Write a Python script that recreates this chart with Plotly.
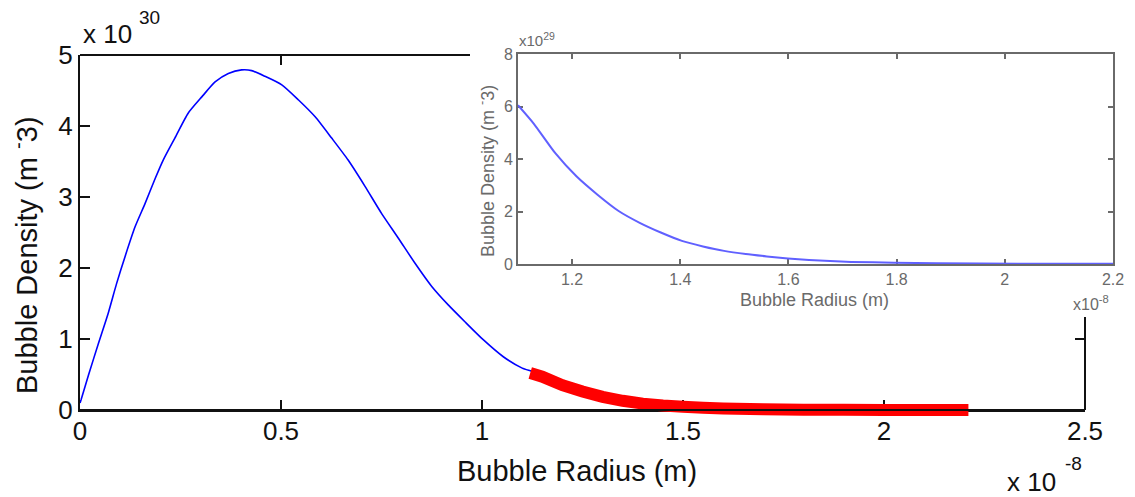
import plotly.graph_objects as go

# ---------------- data (x in 1e-8 m, main y in 1e30 m^-3, inset y in 1e29 m^-3) -------------
radius = [0.0, 0.0025, 0.021, 0.046, 0.070, 0.091, 0.112, 0.137, 0.162, 0.187, 0.207,
          0.236, 0.269, 0.303, 0.336, 0.369, 0.402, 0.427, 0.460, 0.502, 0.543, 0.585,
          0.626, 0.667, 0.709, 0.750, 0.792, 0.833, 0.875, 0.916, 0.958, 1.003, 1.053,
          1.100, 1.129, 1.169, 1.208, 1.247, 1.286, 1.325, 1.364, 1.403, 1.442, 1.481,
          1.521, 1.560, 1.599, 1.638, 1.677, 1.716, 1.795, 1.873, 2.030, 2.200, 2.350, 2.500]
density = [0.10, 0.14, 0.49, 0.94, 1.36, 1.78, 2.16, 2.58, 2.91, 3.26, 3.52,
           3.83, 4.18, 4.41, 4.62, 4.74, 4.79, 4.78, 4.70, 4.58, 4.37, 4.13,
           3.83, 3.52, 3.15, 2.77, 2.42, 2.07, 1.74, 1.48, 1.24, 0.99, 0.75,
           0.59, 0.535, 0.422, 0.334, 0.264, 0.202, 0.157, 0.120, 0.088, 0.067, 0.050,
           0.038, 0.029, 0.021, 0.015, 0.011, 0.008, 0.005, 0.003, 0.001, 0.0005, 0.0002, 0.0001]

red_radius = [1.12, 1.15, 1.20, 1.25, 1.30, 1.35, 1.40, 1.45, 1.50, 1.55, 1.60,
              1.70, 1.80, 1.90, 2.00, 2.10, 2.21]
red_density = [0.52, 0.47, 0.35, 0.26, 0.185, 0.13, 0.09, 0.064, 0.045, 0.031, 0.021,
               0.009, 0.005, 0.003, 0.0015, 0.001, 0.0005]

inset_radius = [1.10, 1.129, 1.169, 1.208, 1.247, 1.286, 1.325, 1.364, 1.403, 1.442, 1.481,
                1.521, 1.560, 1.599, 1.638, 1.677, 1.716, 1.795, 1.873, 2.030, 2.200]
inset_density = [6.05, 5.35, 4.22, 3.34, 2.64, 2.02, 1.57, 1.20, 0.88, 0.67, 0.50,
                 0.38, 0.29, 0.21, 0.15, 0.11, 0.08, 0.05, 0.03, 0.01, 0.005]

main_xticks = [0, 0.5, 1, 1.5, 2, 2.5]
main_xticklabels = ["0", "0.5", "1", "1.5", "2", "2.5"]
main_yticks = [0, 1, 2, 3, 4, 5]
main_yticklabels = ["0", "1", "2", "3", "4", "5"]
inset_xticks = [1.2, 1.4, 1.6, 1.8, 2.0, 2.2]
inset_xticklabels = ["1.2", "1.4", "1.6", "1.8", "2", "2.2"]
inset_yticks = [0, 2, 4, 6, 8]
inset_yticklabels = ["0", "2", "4", "6", "8"]

x_label = "Bubble Radius (m)"
y_label = "Bubble Density (m <sup>-</sup>3)"

# ---------------- layout geometry ----------------
W, H = 1135, 497
L, R, T, B = 80, 22, 54, 77
PW, PH = W - L - R, H - T - B
MAIN_TOP, MAIN_BOTTOM = 55, 410          # pixel rows of the main axes box
RED_BOTTOM = 417                         # the thick red band may spill below the axis


def px(x):
    return (x - L) / PW


def py(y):
    return (H - B - y) / PH


FONT = "Liberation Sans, Arial, sans-serif"
BLACK = "#111111"
GRAY = "#6a6a6a"

y_max = main_yticks[-1]
per_px = (y_max - main_yticks[0]) / (MAIN_BOTTOM - MAIN_TOP)
red_range = [main_yticks[0] - per_px * (RED_BOTTOM - MAIN_BOTTOM), y_max]

fig = go.Figure()
fig.add_trace(go.Scatter(x=radius, y=density, mode="lines",
                         line=dict(color="#0000ff", width=1.6, simplify=False, shape="spline", smoothing=0.6),
                         xaxis="x", yaxis="y", showlegend=False, hoverinfo="skip"))
fig.add_trace(go.Scatter(x=inset_radius, y=inset_density, mode="lines",
                         line=dict(color="#6060ff", width=2, simplify=False, shape="spline", smoothing=0.6),
                         xaxis="x2", yaxis="y2", showlegend=False, hoverinfo="skip"))
fig.add_trace(go.Scatter(x=red_radius, y=red_density, mode="lines",
                         line=dict(color="#ff0000", width=12, simplify=False),
                         xaxis="x", yaxis="y3", showlegend=False, hoverinfo="skip"))

main_axis = dict(showline=True, linecolor=BLACK, linewidth=2, ticks="inside", ticklen=10,
                 tickwidth=2, tickcolor=BLACK, showgrid=False, zeroline=False, automargin=False,
                 tickfont=dict(family=FONT, size=26, color=BLACK), mirror=False)
inset_axis = dict(showline=True, linecolor=GRAY, linewidth=2, ticks="inside", ticklen=5,
                  tickwidth=2, tickcolor=GRAY, showgrid=False, zeroline=False, automargin=False,
                  tickfont=dict(family=FONT, size=16, color=GRAY), mirror="ticks",
                  layer="below traces")

fig.update_layout(
    width=W, height=H, autosize=False,
    margin=dict(l=L, r=R, t=T, b=B, pad=0, autoexpand=False),
    paper_bgcolor="white", plot_bgcolor="rgba(0,0,0,0)",
    xaxis=dict(main_axis, domain=[0, px(1085)], range=[0, 2.5], tickvals=main_xticks,
               ticktext=main_xticklabels, anchor="y", ticklabelstandoff=-3),
    yaxis=dict(main_axis, domain=[py(MAIN_BOTTOM), py(MAIN_TOP)], range=[0, y_max],
               tickvals=main_yticks, ticktext=main_yticklabels, anchor="x", ticklabelstandoff=0),
    yaxis3=dict(domain=[py(RED_BOTTOM), py(MAIN_TOP)], range=red_range, anchor="x",
                visible=False, showgrid=False, zeroline=False, automargin=False),
    xaxis2=dict(inset_axis, domain=[px(518), 1], range=[1.1, 2.2], tickvals=inset_xticks,
                ticktext=inset_xticklabels, anchor="y2"),
    yaxis2=dict(inset_axis, domain=[py(264), py(54)], range=[0, 8], tickvals=inset_yticks,
                ticktext=inset_yticklabels, anchor="x2"),
)

# box lines of the main axes drawn on top (part of the box is hidden behind the inset)
line_main = dict(color=BLACK, width=2)
fig.add_shape(type="line", xref="x", yref="paper", x0=main_xticks[0], x1=main_xticks[-1],
              y0=py(MAIN_BOTTOM), y1=py(MAIN_BOTTOM), line=line_main)
fig.add_shape(type="line", xref="paper", yref="paper", x0=px(80), x1=px(470),
              y0=py(MAIN_TOP), y1=py(MAIN_TOP), line=line_main)
fig.add_shape(type="line", xref="paper", yref="paper", x0=px(1085), x1=px(1085),
              y0=py(MAIN_BOTTOM), y1=py(317), line=line_main)
fig.add_shape(type="line", xref="x", yref="paper", x0=main_xticks[1], x1=main_xticks[1],
              y0=py(MAIN_TOP), y1=py(MAIN_TOP + 10), line=line_main)
fig.add_shape(type="line", xref="paper", yref="y", x0=px(1075), x1=px(1085),
              y0=main_yticks[1], y1=main_yticks[1], line=line_main)

ann = []
ann.append(dict(text="x 10", x=px(81), y=py(34), xanchor="left", yanchor="middle",
                font=dict(family=FONT, size=26, color=BLACK)))
ann.append(dict(text="30", x=px(137), y=py(18), xanchor="left", yanchor="middle",
                font=dict(family=FONT, size=19, color=BLACK)))
ann.append(dict(text="x 10", x=px(1005), y=py(482), xanchor="left", yanchor="middle",
                font=dict(family=FONT, size=26, color=BLACK)))
ann.append(dict(text="-8", x=px(1063), y=py(463), xanchor="left", yanchor="middle",
                font=dict(family=FONT, size=19, color=BLACK)))
ann.append(dict(text=x_label, x=px(577), y=py(471), xanchor="center", yanchor="middle",
                font=dict(family=FONT, size=29, color=BLACK)))
ann.append(dict(text=y_label, x=px(25), y=py(255), xanchor="center", yanchor="middle",
                textangle=-90, font=dict(family=FONT, size=29, color=BLACK)))
ann.append(dict(text="x10<sup>29</sup>", x=px(517), y=py(40), xanchor="left", yanchor="middle",
                font=dict(family=FONT, size=15, color=GRAY)))
ann.append(dict(text="x10<sup>-8</sup>", x=px(1111), y=py(303), xanchor="right", yanchor="middle",
                font=dict(family=FONT, size=16, color=GRAY)))
ann.append(dict(text=x_label, x=px(814), y=py(300), xanchor="center", yanchor="middle",
                font=dict(family=FONT, size=18, color=GRAY)))
ann.append(dict(text=y_label, x=px(486), y=py(171), xanchor="center", yanchor="middle",
                textangle=-90, font=dict(family=FONT, size=18, color=GRAY)))
for a in ann:
    a.update(xref="paper", yref="paper", showarrow=False)
fig.update_layout(annotations=ann)

fig.write_html("out.html")
